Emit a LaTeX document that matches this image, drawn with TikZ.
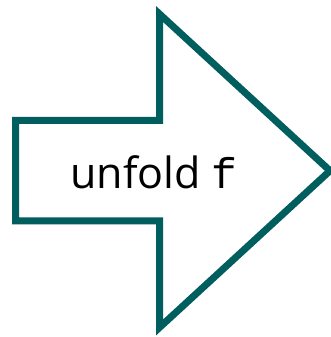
\documentclass[tikz,border=0pt]{standalone}
\usepackage{fontspec}
\setmainfont{Open Sans}
\newfontfamily\codefont{Liberation Mono}
\definecolor{arrowteal}{RGB}{0,94,94}
\begin{document}
\begin{tikzpicture}[x=1pt,y=1pt,
  arrowline/.style={draw=arrowteal,line width=7pt,line join=miter,fill=white}]
\useasboundingbox (0,0) rectangle (331,337);
\draw[arrowline] (15.5,216.5) coordinate (a1) -- (159.5,216.5) coordinate (a2)
  -- (159.5,323) coordinate (a3) -- (330,166.25) coordinate (tip)
  -- (159.5,9.5) coordinate (a5) -- (159.5,116) coordinate (a6)
  -- (15.5,116) coordinate (a7) -- cycle;
\node[inner sep=0pt,anchor=base,font=\fontsize{43}{50}\selectfont] (lbl) at (154,148) {unfold {\codefont f}};
\end{tikzpicture}
\end{document}
